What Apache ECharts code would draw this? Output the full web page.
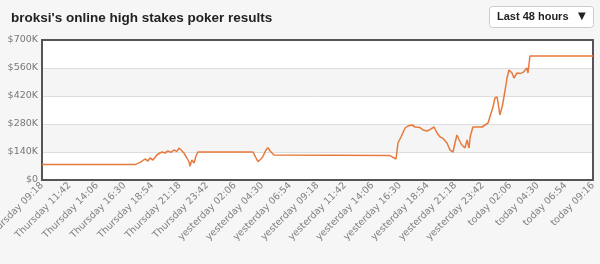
<!DOCTYPE html>
<html><head><meta charset="utf-8">
<script src="https://cdn.jsdelivr.net/npm/echarts@6/dist/echarts.min.js"></script>
<style>html,body{margin:0;padding:0;background:#f6f6f6;}#c{width:600px;height:264px;}</style>
</head><body><div id="c"></div>
<script>
// x positions in tick units (one tick = 2h24m), values in $K
const tickLabels = ["Thursday 09:18","Thursday 11:42","Thursday 14:06","Thursday 16:30","Thursday 18:54","Thursday 21:18","Thursday 23:42","yesterday 02:06","yesterday 04:30","yesterday 06:54","yesterday 09:18","yesterday 11:42","yesterday 14:06","yesterday 16:30","yesterday 18:54","yesterday 21:18","yesterday 23:42","today 02:06","today 04:30","today 06:54","today 09:16"];
const yTicks = [0,140,280,420,560,700];
const xTimes = [0,3.38,3.45,3.56,3.74,3.85,3.92,4.03,4.17,4.28,4.36,4.46,4.57,4.68,4.79,4.90,4.97,5.05,5.15,5.26,5.34,5.37,5.44,5.52,5.59,5.66,7.66,7.77,7.84,7.95,8.02,8.13,8.20,8.28,8.35,8.42,12.63,12.85,12.92,13.03,13.10,13.18,13.28,13.43,13.54,13.72,13.83,13.97,14.08,14.23,14.34,14.45,14.56,14.70,14.81,14.92,14.99,15.06,15.14,15.24,15.35,15.43,15.50,15.54,15.64,15.97,16.08,16.19,16.26,16.37,16.44,16.52,16.55,16.62,16.70,16.73,16.81,16.88,16.95,17.06,17.13,17.24,17.35,17.46,17.60,17.64,17.71,20];
const results = [77,77,80,88,105,95,110,100,125,135,140,135,145,138,150,143,160,150,135,110,90,68,100,85,120,140,140,110,92,105,118,150,162,145,150,125,122,105,185,215,225,260,270,275,265,262,250,245,252,265,235,215,208,185,150,140,185,225,200,175,160,200,160,215,265,265,275,285,288,365,410,415,390,325,365,385,450,510,550,535,510,535,532,538,560,535,620,620];

const data = xTimes.map((t,i)=>[t, results[i]]);
const frameLine = {show:true,onZero:false,lineStyle:{color:'#555',width:2}};
const chart = echarts.init(document.getElementById('c'));
chart.setOption({
  backgroundColor:'#f6f6f6',
  animation:false,
  title:{text:"broksi's online high stakes poker results",left:6,top:6,
    textStyle:{fontFamily:'Liberation Sans, Arial',fontSize:13.5,fontWeight:'bold',color:'#222'}},
  graphic:[
    {type:'rect',left:489,top:6,shape:{width:104,height:21,r:3},style:{fill:'#fff',stroke:'#ccc',lineWidth:1}},
    {type:'text',left:497,top:11,style:{text:'Last 48 hours',font:'bold 11px Liberation Sans, Arial',fill:'#222'}},
    {type:'text',left:578,top:11,style:{text:'▼',font:'10px DejaVu Sans',fill:'#222'}}
  ],
  grid:{left:42,right:7,top:40,bottom:84,outerBoundsMode:'none',containLabel:false,show:true,borderWidth:0,backgroundColor:'#fff'},
  xAxis:[
    {type:'value',min:0,max:20,interval:1,position:'bottom',
    axisLine:frameLine,axisTick:{show:false},splitLine:{show:false},
    axisLabel:{rotate:45,fontSize:9.5,fontFamily:'DejaVu Sans, Verdana',color:'#808080',margin:4,
      formatter:v=>tickLabels[Math.round(v)]||''}},
    {type:'value',min:0,max:20,interval:1,position:'top',
    axisLine:frameLine,axisTick:{show:false},splitLine:{show:false},axisLabel:{show:false}}
  ],
  yAxis:[
    {type:'value',min:0,max:700,interval:140,position:'left',
    axisLine:frameLine,axisTick:{show:false},
    splitLine:{show:true,lineStyle:{color:'#ddd',width:1}},
    splitArea:{show:true,areaStyle:{color:['#fff','#f5f5f5']}},
    axisLabel:{fontSize:9.5,fontFamily:'DejaVu Sans, Verdana',color:'#777',margin:4,
      formatter:v=>'$'+v+(v===0?'':'K')}},
    {type:'value',min:0,max:700,interval:140,position:'right',
    axisLine:frameLine,axisTick:{show:false},splitLine:{show:false},axisLabel:{show:false}}
  ],
  series:[{type:'line',data:data,symbol:'none',xAxisIndex:0,yAxisIndex:0,
    lineStyle:{color:'#e87a3e',width:1.5}}]
});
</script></body></html>
